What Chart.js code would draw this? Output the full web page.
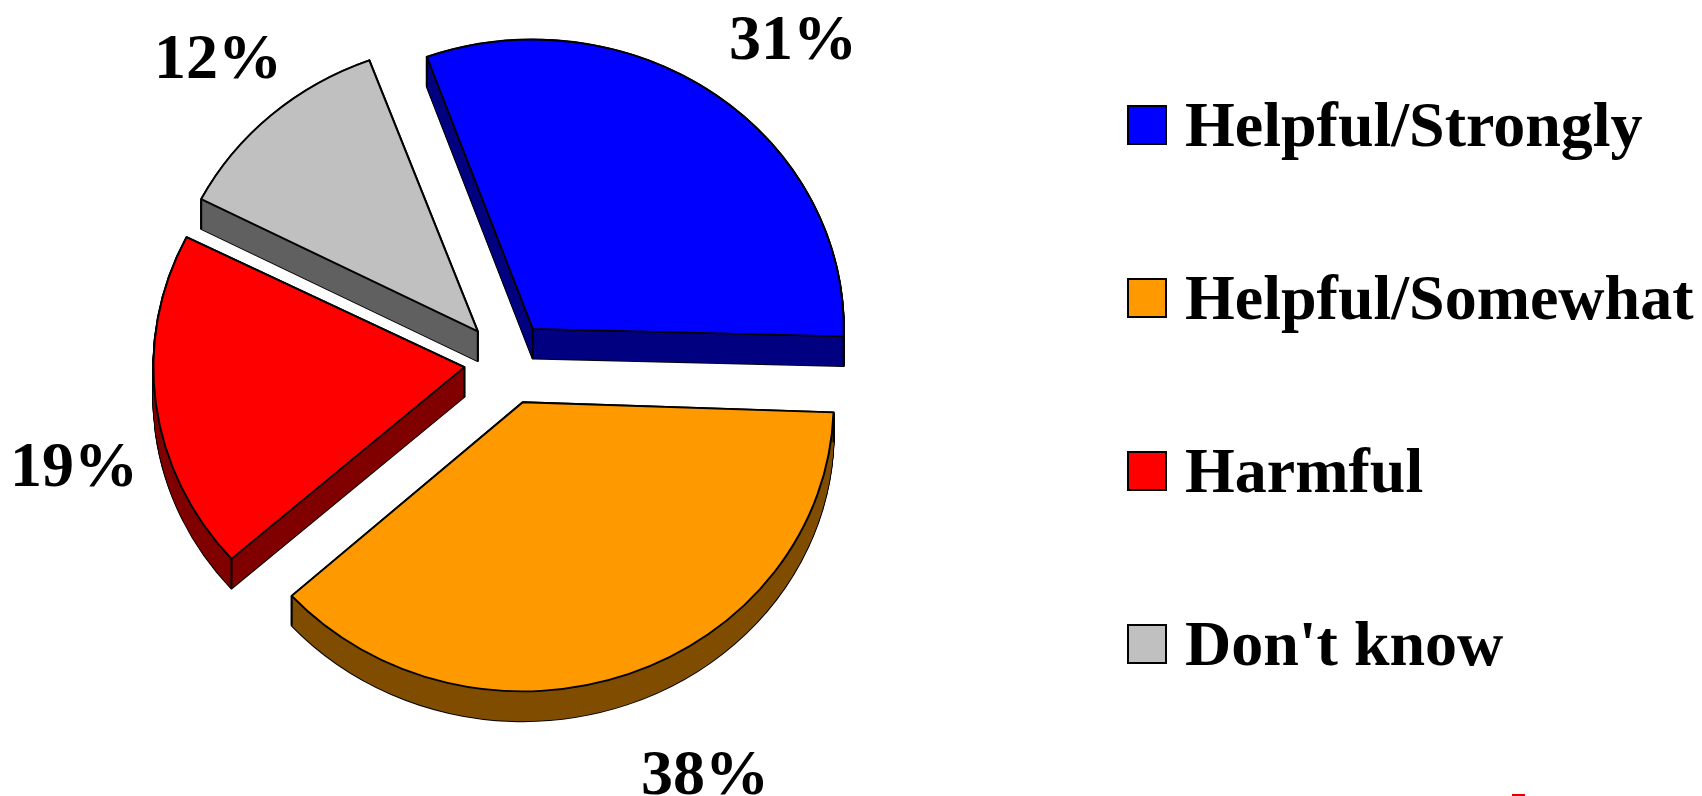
<!DOCTYPE html>
<html>
<head>
<meta charset="utf-8">
<style>
  html, body { margin: 0; padding: 0; background: #fff; }
  #wrap { position: relative; width: 1702px; height: 796px; overflow: hidden; }
  #stray { position: absolute; left: 1512px; top: 794px; width: 13px; height: 2px; background: #e00000; }
</style>
<script src="https://cdn.jsdelivr.net/npm/chart.js@4/dist/chart.umd.min.js"></script>
</head>
<body>
<div id="wrap">
  <canvas id="pieChart" width="1702" height="796"></canvas>
  <div id="stray"></div>
</div>
<script>
const categories = ["Helpful/Strongly", "Helpful/Somewhat", "Harmful", "Don't know"];
const shares = [31, 38, 19, 12];
const topColors = ["#0000ff", "#ff9900", "#ff0000", "#c0c0c0"];
const sideColors = ["#000080", "#804d00", "#800000", "#606060"];
const explode = [44, 46, 43, 44]; // how far each slice is pulled out, px
const labelSpots = [[793, 42], [705, 777], [74, 469], [218, 61]]; // percent text centres

const pieRadius = 311;
const squash = 0.93; // pie is drawn as a slightly flat ellipse
const depth = 32; // thickness of the 3D side
const bigFont = "bold 64px 'Liberation Serif'";

// ArcElement grows an offset slice by this much
function radiusFix(arc) {
  const off = arc.options.offset / 4;
  return off * (1 - Math.sin(Math.min(Math.PI, arc.circumference)));
}

// same outline the library gets for the top face, moved down by dy
function arcPath(ctx, arc, dy) {
  const off = arc.options.offset / 4;
  const mid = (arc.startAngle + arc.endAngle) / 2;
  const trim = radiusFix(arc) / Math.PI / pieRadius / 2;
  const start = arc.startAngle + trim;
  const end = arc.endAngle - trim;
  const x = arc.x + Math.cos(mid) * off;
  const y = arc.y + Math.sin(mid) * off + dy;
  ctx.beginPath();
  ctx.moveTo(x, y);
  ctx.arc(x, y, pieRadius, start, end);
  ctx.closePath();
  return { x, y, start, end };
}

// squash the pie and extrude each slice before the library draws the top faces
const pie3d = {
  id: "pie3d",
  afterDatasetsUpdate(chart) {
    chart.getDatasetMeta(0).data.forEach(arc => {
      arc.outerRadius = pieRadius - radiusFix(arc);
    });
  },
  beforeDatasetsDraw(chart) {
    const ctx = chart.ctx;
    const arcs = chart.getDatasetMeta(0).data;
    const cx = arcs[0].x, cy = arcs[0].y;
    ctx.save();
    ctx.translate(cx, cy);
    ctx.scale(1, squash);
    ctx.translate(-cx, -cy);

    arcs.forEach((arc, i) => {
      ctx.strokeStyle = "#000";
      ctx.lineWidth = 2;
      ctx.lineJoin = "round";
      for (let d = 0; d <= depth; d++) {
        arcPath(ctx, arc, d);
        ctx.stroke();
      }
      ctx.fillStyle = sideColors[i];
      for (let d = 0; d <= depth; d++) {
        arcPath(ctx, arc, d);
        ctx.fill();
      }
      // vertical edges at the apex and the two rim corners
      const p = arcPath(ctx, arc, 0);
      const corners = [
        [p.x, p.y],
        [p.x + Math.cos(p.start) * pieRadius, p.y + Math.sin(p.start) * pieRadius],
        [p.x + Math.cos(p.end) * pieRadius, p.y + Math.sin(p.end) * pieRadius],
      ];
      ctx.beginPath();
      corners.forEach(c => {
        ctx.moveTo(c[0], c[1]);
        ctx.lineTo(c[0], c[1] + depth);
      });
      ctx.stroke();
    });
  },
  afterDatasetsDraw(chart) {
    chart.ctx.restore();
  },
};

// percent labels and the legend at the right
const textLayer = {
  id: "textLayer",
  afterDraw(chart) {
    const ctx = chart.ctx;
    ctx.save();
    ctx.fillStyle = "#000";
    ctx.font = bigFont;
    ctx.textBaseline = "middle";
    ctx.textAlign = "center";
    shares.forEach((v, i) => {
      ctx.fillText(v + "%", labelSpots[i][0], labelSpots[i][1]);
    });

    ctx.textAlign = "left";
    categories.forEach((name, i) => {
      const y = 125 + i * 173;
      ctx.fillStyle = topColors[i];
      ctx.fillRect(1128, y - 19, 38, 38);
      ctx.strokeStyle = "#000";
      ctx.lineWidth = 2;
      ctx.strokeRect(1128, y - 19, 38, 38);
      ctx.fillStyle = "#000";
      ctx.fillText(name, 1185, y + 4);
    });
    ctx.restore();
  },
};

new Chart(document.getElementById("pieChart"), {
  type: "pie",
  data: {
    labels: categories,
    datasets: [{
      data: shares,
      backgroundColor: topColors,
      borderColor: "#000",
      borderWidth: 2,
      borderAlign: "center",
      borderJoinStyle: "round",
      offset: explode.map(v => v * 4), // ArcElement uses a quarter of this
      clip: false,
    }],
  },
  options: {
    responsive: false,
    animation: false,
    events: [],
    rotation: -20,
    radius: pieRadius,
    layout: { padding: { left: 0, right: 688, top: 0, bottom: 72 } },
    plugins: { legend: { display: false }, tooltip: { enabled: false } },
  },
  plugins: [pie3d, textLayer],
});
</script>
</body>
</html>
